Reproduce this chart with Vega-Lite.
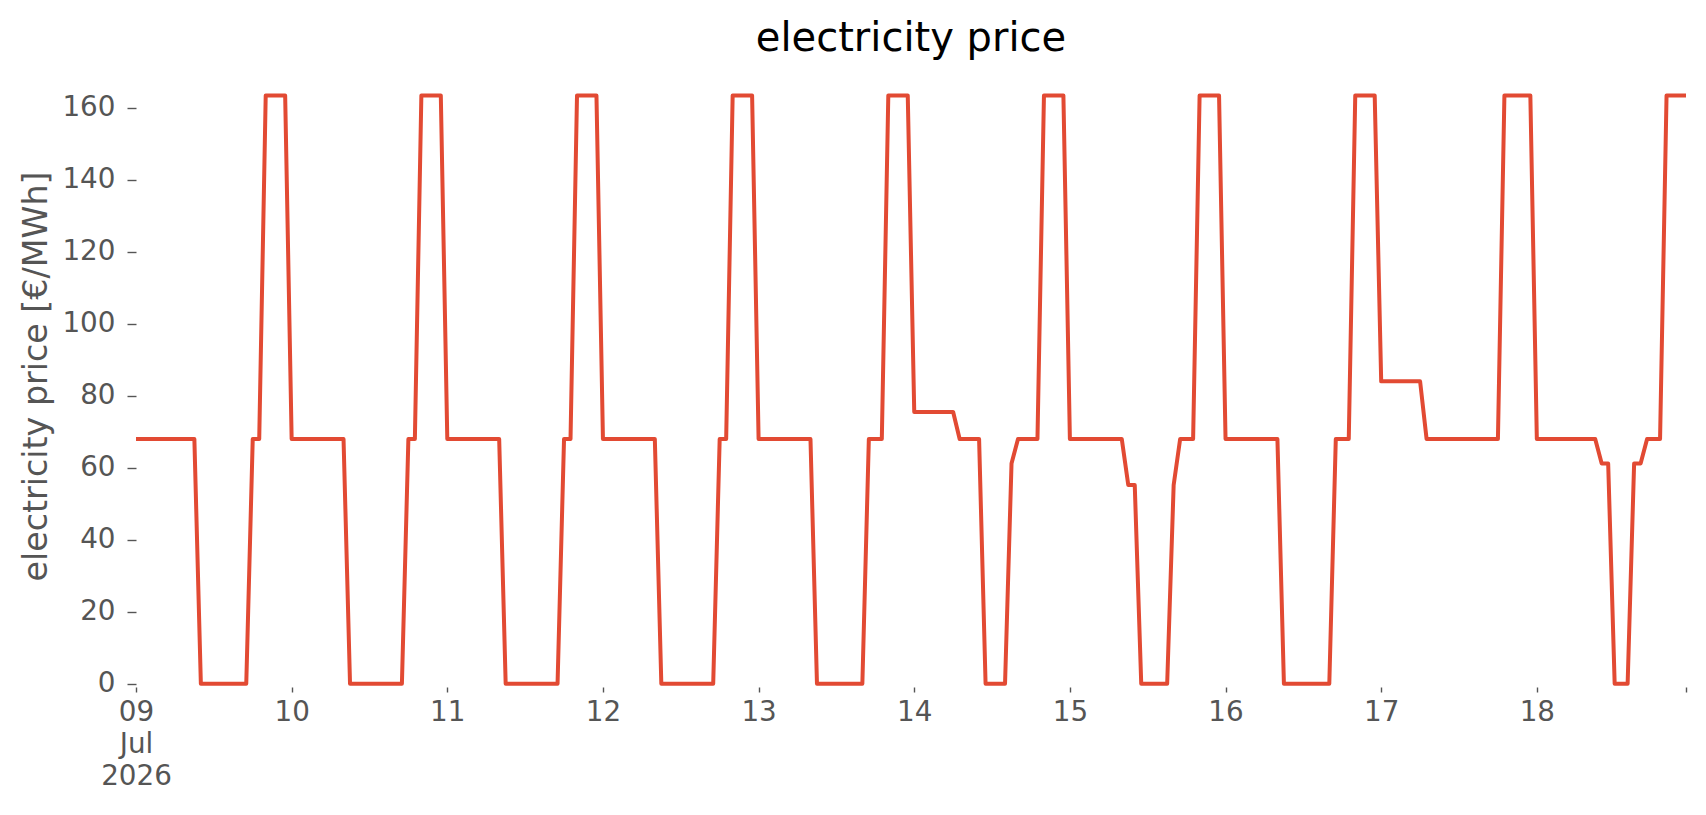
{
  "$schema": "https://vega.github.io/schema/vega-lite/v6.json",
  "autosize": {"type": "none"},
  "padding": {"left": 136, "top": 66, "right": 20, "bottom": 128},
  "width": 1550,
  "height": 621,
  "background": "white",
  "title": {
    "text": "electricity price",
    "font": "DejaVu Sans",
    "fontSize": 40,
    "fontWeight": "normal",
    "color": "#000000",
    "baseline": "alphabetic",
    "offset": 12,
    "dy": 37
  },
  "data": {
    "values": [
      {"time": "2026-07-09T00:00", "price": 68}, {"time": "2026-07-09T01:00", "price": 68}, {"time": "2026-07-09T02:00", "price": 68}, {"time": "2026-07-09T03:00", "price": 68},
      {"time": "2026-07-09T04:00", "price": 68}, {"time": "2026-07-09T05:00", "price": 68}, {"time": "2026-07-09T06:00", "price": 68}, {"time": "2026-07-09T07:00", "price": 68},
      {"time": "2026-07-09T08:00", "price": 68}, {"time": "2026-07-09T09:00", "price": 68}, {"time": "2026-07-09T10:00", "price": 0}, {"time": "2026-07-09T11:00", "price": 0},
      {"time": "2026-07-09T12:00", "price": 0}, {"time": "2026-07-09T13:00", "price": 0}, {"time": "2026-07-09T14:00", "price": 0}, {"time": "2026-07-09T15:00", "price": 0},
      {"time": "2026-07-09T16:00", "price": 0}, {"time": "2026-07-09T17:00", "price": 0}, {"time": "2026-07-09T18:00", "price": 68}, {"time": "2026-07-09T19:00", "price": 68},
      {"time": "2026-07-09T20:00", "price": 163.4}, {"time": "2026-07-09T21:00", "price": 163.4}, {"time": "2026-07-09T22:00", "price": 163.4}, {"time": "2026-07-09T23:00", "price": 163.4},

      {"time": "2026-07-10T00:00", "price": 68}, {"time": "2026-07-10T01:00", "price": 68}, {"time": "2026-07-10T02:00", "price": 68}, {"time": "2026-07-10T03:00", "price": 68},
      {"time": "2026-07-10T04:00", "price": 68}, {"time": "2026-07-10T05:00", "price": 68}, {"time": "2026-07-10T06:00", "price": 68}, {"time": "2026-07-10T07:00", "price": 68},
      {"time": "2026-07-10T08:00", "price": 68}, {"time": "2026-07-10T09:00", "price": 0}, {"time": "2026-07-10T10:00", "price": 0}, {"time": "2026-07-10T11:00", "price": 0},
      {"time": "2026-07-10T12:00", "price": 0}, {"time": "2026-07-10T13:00", "price": 0}, {"time": "2026-07-10T14:00", "price": 0}, {"time": "2026-07-10T15:00", "price": 0},
      {"time": "2026-07-10T16:00", "price": 0}, {"time": "2026-07-10T17:00", "price": 0}, {"time": "2026-07-10T18:00", "price": 68}, {"time": "2026-07-10T19:00", "price": 68},
      {"time": "2026-07-10T20:00", "price": 163.4}, {"time": "2026-07-10T21:00", "price": 163.4}, {"time": "2026-07-10T22:00", "price": 163.4}, {"time": "2026-07-10T23:00", "price": 163.4},

      {"time": "2026-07-11T00:00", "price": 68}, {"time": "2026-07-11T01:00", "price": 68}, {"time": "2026-07-11T02:00", "price": 68}, {"time": "2026-07-11T03:00", "price": 68},
      {"time": "2026-07-11T04:00", "price": 68}, {"time": "2026-07-11T05:00", "price": 68}, {"time": "2026-07-11T06:00", "price": 68}, {"time": "2026-07-11T07:00", "price": 68},
      {"time": "2026-07-11T08:00", "price": 68}, {"time": "2026-07-11T09:00", "price": 0}, {"time": "2026-07-11T10:00", "price": 0}, {"time": "2026-07-11T11:00", "price": 0},
      {"time": "2026-07-11T12:00", "price": 0}, {"time": "2026-07-11T13:00", "price": 0}, {"time": "2026-07-11T14:00", "price": 0}, {"time": "2026-07-11T15:00", "price": 0},
      {"time": "2026-07-11T16:00", "price": 0}, {"time": "2026-07-11T17:00", "price": 0}, {"time": "2026-07-11T18:00", "price": 68}, {"time": "2026-07-11T19:00", "price": 68},
      {"time": "2026-07-11T20:00", "price": 163.4}, {"time": "2026-07-11T21:00", "price": 163.4}, {"time": "2026-07-11T22:00", "price": 163.4}, {"time": "2026-07-11T23:00", "price": 163.4},

      {"time": "2026-07-12T00:00", "price": 68}, {"time": "2026-07-12T01:00", "price": 68}, {"time": "2026-07-12T02:00", "price": 68}, {"time": "2026-07-12T03:00", "price": 68},
      {"time": "2026-07-12T04:00", "price": 68}, {"time": "2026-07-12T05:00", "price": 68}, {"time": "2026-07-12T06:00", "price": 68}, {"time": "2026-07-12T07:00", "price": 68},
      {"time": "2026-07-12T08:00", "price": 68}, {"time": "2026-07-12T09:00", "price": 0}, {"time": "2026-07-12T10:00", "price": 0}, {"time": "2026-07-12T11:00", "price": 0},
      {"time": "2026-07-12T12:00", "price": 0}, {"time": "2026-07-12T13:00", "price": 0}, {"time": "2026-07-12T14:00", "price": 0}, {"time": "2026-07-12T15:00", "price": 0},
      {"time": "2026-07-12T16:00", "price": 0}, {"time": "2026-07-12T17:00", "price": 0}, {"time": "2026-07-12T18:00", "price": 68}, {"time": "2026-07-12T19:00", "price": 68},
      {"time": "2026-07-12T20:00", "price": 163.4}, {"time": "2026-07-12T21:00", "price": 163.4}, {"time": "2026-07-12T22:00", "price": 163.4}, {"time": "2026-07-12T23:00", "price": 163.4},

      {"time": "2026-07-13T00:00", "price": 68}, {"time": "2026-07-13T01:00", "price": 68}, {"time": "2026-07-13T02:00", "price": 68}, {"time": "2026-07-13T03:00", "price": 68},
      {"time": "2026-07-13T04:00", "price": 68}, {"time": "2026-07-13T05:00", "price": 68}, {"time": "2026-07-13T06:00", "price": 68}, {"time": "2026-07-13T07:00", "price": 68},
      {"time": "2026-07-13T08:00", "price": 68}, {"time": "2026-07-13T09:00", "price": 0}, {"time": "2026-07-13T10:00", "price": 0}, {"time": "2026-07-13T11:00", "price": 0},
      {"time": "2026-07-13T12:00", "price": 0}, {"time": "2026-07-13T13:00", "price": 0}, {"time": "2026-07-13T14:00", "price": 0}, {"time": "2026-07-13T15:00", "price": 0},
      {"time": "2026-07-13T16:00", "price": 0}, {"time": "2026-07-13T17:00", "price": 68}, {"time": "2026-07-13T18:00", "price": 68}, {"time": "2026-07-13T19:00", "price": 68},
      {"time": "2026-07-13T20:00", "price": 163.4}, {"time": "2026-07-13T21:00", "price": 163.4}, {"time": "2026-07-13T22:00", "price": 163.4}, {"time": "2026-07-13T23:00", "price": 163.4},

      {"time": "2026-07-14T00:00", "price": 75.5}, {"time": "2026-07-14T01:00", "price": 75.5}, {"time": "2026-07-14T02:00", "price": 75.5}, {"time": "2026-07-14T03:00", "price": 75.5},
      {"time": "2026-07-14T04:00", "price": 75.5}, {"time": "2026-07-14T05:00", "price": 75.5}, {"time": "2026-07-14T06:00", "price": 75.5}, {"time": "2026-07-14T07:00", "price": 68},
      {"time": "2026-07-14T08:00", "price": 68}, {"time": "2026-07-14T09:00", "price": 68}, {"time": "2026-07-14T10:00", "price": 68}, {"time": "2026-07-14T11:00", "price": 0},
      {"time": "2026-07-14T12:00", "price": 0}, {"time": "2026-07-14T13:00", "price": 0}, {"time": "2026-07-14T14:00", "price": 0}, {"time": "2026-07-14T15:00", "price": 61.2},
      {"time": "2026-07-14T16:00", "price": 68}, {"time": "2026-07-14T17:00", "price": 68}, {"time": "2026-07-14T18:00", "price": 68}, {"time": "2026-07-14T19:00", "price": 68},
      {"time": "2026-07-14T20:00", "price": 163.4}, {"time": "2026-07-14T21:00", "price": 163.4}, {"time": "2026-07-14T22:00", "price": 163.4}, {"time": "2026-07-14T23:00", "price": 163.4},

      {"time": "2026-07-15T00:00", "price": 68}, {"time": "2026-07-15T01:00", "price": 68}, {"time": "2026-07-15T02:00", "price": 68}, {"time": "2026-07-15T03:00", "price": 68},
      {"time": "2026-07-15T04:00", "price": 68}, {"time": "2026-07-15T05:00", "price": 68}, {"time": "2026-07-15T06:00", "price": 68}, {"time": "2026-07-15T07:00", "price": 68},
      {"time": "2026-07-15T08:00", "price": 68}, {"time": "2026-07-15T09:00", "price": 55.2}, {"time": "2026-07-15T10:00", "price": 55.2}, {"time": "2026-07-15T11:00", "price": 0},
      {"time": "2026-07-15T12:00", "price": 0}, {"time": "2026-07-15T13:00", "price": 0}, {"time": "2026-07-15T14:00", "price": 0}, {"time": "2026-07-15T15:00", "price": 0},
      {"time": "2026-07-15T16:00", "price": 55.2}, {"time": "2026-07-15T17:00", "price": 68}, {"time": "2026-07-15T18:00", "price": 68}, {"time": "2026-07-15T19:00", "price": 68},
      {"time": "2026-07-15T20:00", "price": 163.4}, {"time": "2026-07-15T21:00", "price": 163.4}, {"time": "2026-07-15T22:00", "price": 163.4}, {"time": "2026-07-15T23:00", "price": 163.4},

      {"time": "2026-07-16T00:00", "price": 68}, {"time": "2026-07-16T01:00", "price": 68}, {"time": "2026-07-16T02:00", "price": 68}, {"time": "2026-07-16T03:00", "price": 68},
      {"time": "2026-07-16T04:00", "price": 68}, {"time": "2026-07-16T05:00", "price": 68}, {"time": "2026-07-16T06:00", "price": 68}, {"time": "2026-07-16T07:00", "price": 68},
      {"time": "2026-07-16T08:00", "price": 68}, {"time": "2026-07-16T09:00", "price": 0}, {"time": "2026-07-16T10:00", "price": 0}, {"time": "2026-07-16T11:00", "price": 0},
      {"time": "2026-07-16T12:00", "price": 0}, {"time": "2026-07-16T13:00", "price": 0}, {"time": "2026-07-16T14:00", "price": 0}, {"time": "2026-07-16T15:00", "price": 0},
      {"time": "2026-07-16T16:00", "price": 0}, {"time": "2026-07-16T17:00", "price": 68}, {"time": "2026-07-16T18:00", "price": 68}, {"time": "2026-07-16T19:00", "price": 68},
      {"time": "2026-07-16T20:00", "price": 163.4}, {"time": "2026-07-16T21:00", "price": 163.4}, {"time": "2026-07-16T22:00", "price": 163.4}, {"time": "2026-07-16T23:00", "price": 163.4},

      {"time": "2026-07-17T00:00", "price": 84}, {"time": "2026-07-17T01:00", "price": 84}, {"time": "2026-07-17T02:00", "price": 84}, {"time": "2026-07-17T03:00", "price": 84},
      {"time": "2026-07-17T04:00", "price": 84}, {"time": "2026-07-17T05:00", "price": 84}, {"time": "2026-07-17T06:00", "price": 84}, {"time": "2026-07-17T07:00", "price": 68},
      {"time": "2026-07-17T08:00", "price": 68}, {"time": "2026-07-17T09:00", "price": 68}, {"time": "2026-07-17T10:00", "price": 68}, {"time": "2026-07-17T11:00", "price": 68},
      {"time": "2026-07-17T12:00", "price": 68}, {"time": "2026-07-17T13:00", "price": 68}, {"time": "2026-07-17T14:00", "price": 68}, {"time": "2026-07-17T15:00", "price": 68},
      {"time": "2026-07-17T16:00", "price": 68}, {"time": "2026-07-17T17:00", "price": 68}, {"time": "2026-07-17T18:00", "price": 68}, {"time": "2026-07-17T19:00", "price": 163.4},
      {"time": "2026-07-17T20:00", "price": 163.4}, {"time": "2026-07-17T21:00", "price": 163.4}, {"time": "2026-07-17T22:00", "price": 163.4}, {"time": "2026-07-17T23:00", "price": 163.4},

      {"time": "2026-07-18T00:00", "price": 68}, {"time": "2026-07-18T01:00", "price": 68}, {"time": "2026-07-18T02:00", "price": 68}, {"time": "2026-07-18T03:00", "price": 68},
      {"time": "2026-07-18T04:00", "price": 68}, {"time": "2026-07-18T05:00", "price": 68}, {"time": "2026-07-18T06:00", "price": 68}, {"time": "2026-07-18T07:00", "price": 68},
      {"time": "2026-07-18T08:00", "price": 68}, {"time": "2026-07-18T09:00", "price": 68}, {"time": "2026-07-18T10:00", "price": 61.2}, {"time": "2026-07-18T11:00", "price": 61.2},
      {"time": "2026-07-18T12:00", "price": 0}, {"time": "2026-07-18T13:00", "price": 0}, {"time": "2026-07-18T14:00", "price": 0}, {"time": "2026-07-18T15:00", "price": 61.2},
      {"time": "2026-07-18T16:00", "price": 61.2}, {"time": "2026-07-18T17:00", "price": 68}, {"time": "2026-07-18T18:00", "price": 68}, {"time": "2026-07-18T19:00", "price": 68},
      {"time": "2026-07-18T20:00", "price": 163.4}, {"time": "2026-07-18T21:00", "price": 163.4}, {"time": "2026-07-18T22:00", "price": 163.4}, {"time": "2026-07-18T23:00", "price": 163.4}
    ]
  },
  "mark": {"type": "line", "color": "#E24A33", "strokeWidth": 4, "strokeJoin": "round", "interpolate": "linear"},
  "encoding": {
    "x": {
      "field": "time",
      "type": "temporal",
      "scale": {"nice": false, "padding": 0},
      "axis": {
        "title": null,
        "grid": false,
        "domain": false,
        "values": [
          {"year": 2026, "month": 7, "date": 9},
          {"year": 2026, "month": 7, "date": 10},
          {"year": 2026, "month": 7, "date": 11},
          {"year": 2026, "month": 7, "date": 12},
          {"year": 2026, "month": 7, "date": 13},
          {"year": 2026, "month": 7, "date": 14},
          {"year": 2026, "month": 7, "date": 15},
          {"year": 2026, "month": 7, "date": 16},
          {"year": 2026, "month": 7, "date": 17},
          {"year": 2026, "month": 7, "date": 18},
          {"year": 2026, "month": 7, "date": 18, "hours": 23}
        ],
        "labelExpr": "hours(datum.value) == 23 ? '' : (date(datum.value) == 9 ? ['09', 'Jul', '2026'] : timeFormat(datum.value, '%d'))",
        "labelFont": "DejaVu Sans",
        "labelFontSize": 27.8,
        "labelColor": "#555555",
        "labelLineHeight": 32,
        "labelPadding": 6,
        "labelFlush": false,
        "labelOverlap": false,
        "tickColor": "#555555",
        "tickSize": 5,
        "tickWidth": 1.4
      }
    },
    "y": {
      "field": "price",
      "type": "quantitative",
      "scale": {"domain": [-0.9, 171.6], "nice": false, "zero": false},
      "axis": {
        "title": "electricity price [€/MWh]",
        "titleFont": "DejaVu Sans",
        "titleFontSize": 33.3,
        "titleFontWeight": "normal",
        "titleColor": "#555555",
        "titleX": -90,
        "titleY": 310,
        "titleAngle": -90,
        "titleAlign": "center",
        "titleBaseline": "alphabetic",
        "grid": false,
        "domain": false,
        "values": [0, 20, 40, 60, 80, 100, 120, 140, 160],
        "labelFont": "DejaVu Sans",
        "labelFontSize": 27.8,
        "labelColor": "#555555",
        "labelPadding": 12,
        "tickColor": "#555555",
        "tickSize": 9,
        "tickWidth": 1.4
      }
    }
  },
  "config": {
    "view": {"stroke": null},
    "font": "DejaVu Sans"
  }
}
